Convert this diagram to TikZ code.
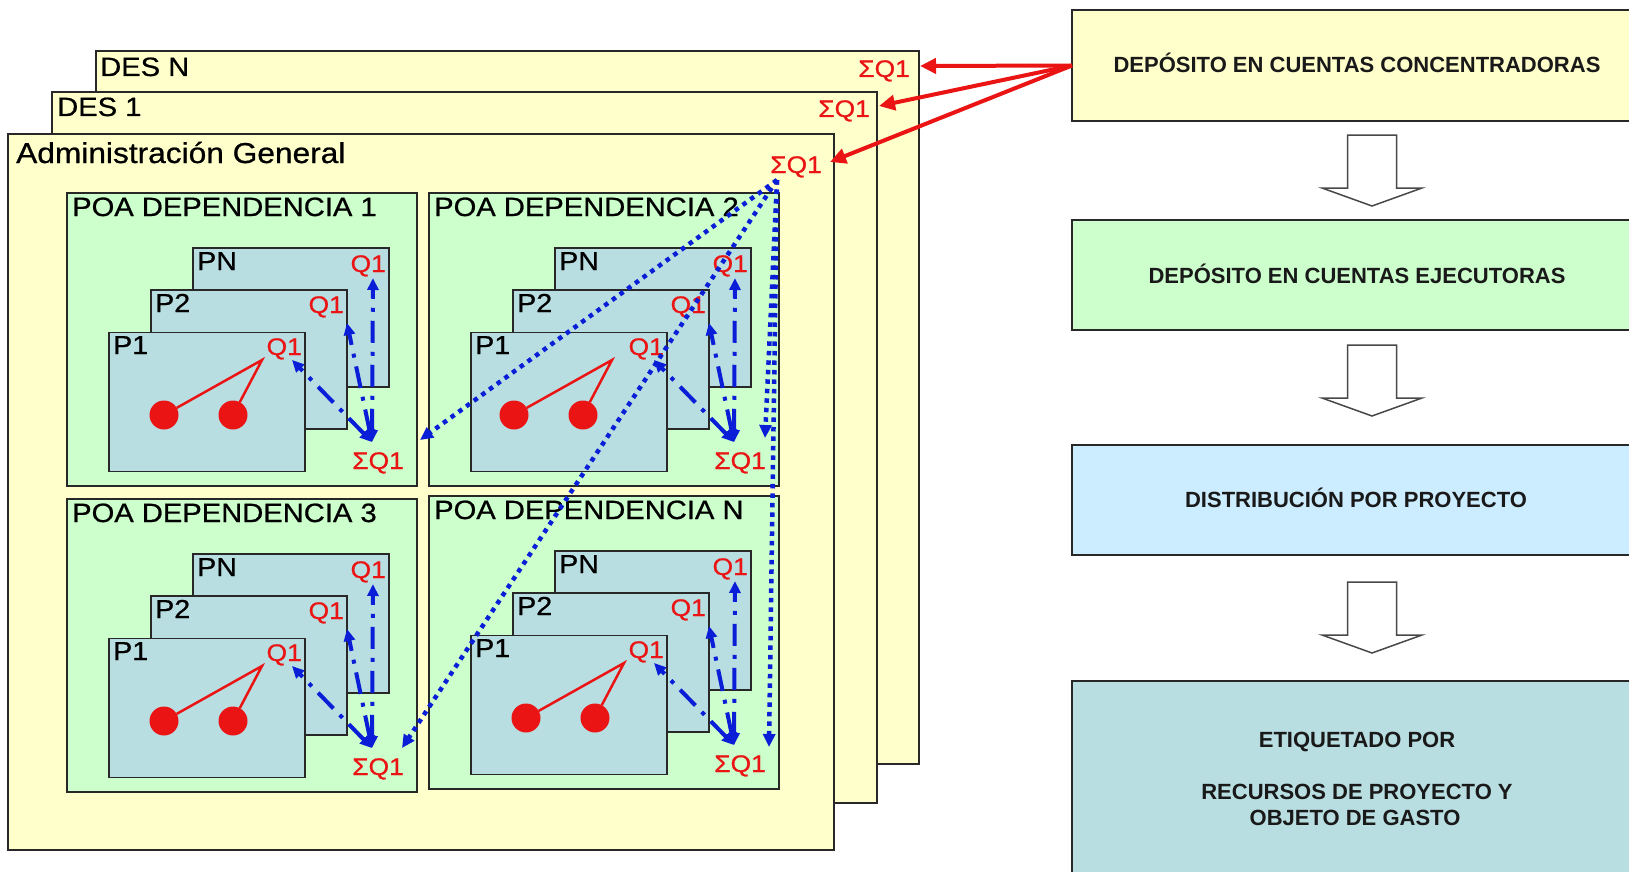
\documentclass[tikz,border=0pt]{standalone}
\usepackage{fontspec}
\setmainfont{Liberation Sans}
\newfontfamily\heavyfont{Liberation Sans}[FakeBold=0.7]
\usetikzlibrary{arrows.meta}
\definecolor{cyellow}{RGB}{255,255,204}
\definecolor{cgreen}{RGB}{204,255,204}
\definecolor{cpbox}{RGB}{185,222,226}
\definecolor{clblue}{RGB}{204,236,255}
\definecolor{cred}{RGB}{235,20,20}
\definecolor{cblue}{RGB}{10,30,215}
\definecolor{cedge}{RGB}{40,40,40}
\newcommand\wtxt[1]{\scalebox{1.1}[1]{#1}}
\tikzset{
  panel/.style={draw=cedge,line width=1.5pt,inner sep=0pt,outer sep=0pt,rectangle},
  ttl/.style={anchor=base west,inner sep=0pt,font=\heavyfont\fontsize{26.5}{30}\selectfont},
  plab/.style={anchor=base west,inner sep=0pt,font=\heavyfont\fontsize{26}{30}\selectfont},
  qlab/.style={anchor=base east,inner sep=0pt,text=cred,font=\heavyfont\fontsize{24}{28}\selectfont},
  ball/.style={circle,fill=cred,minimum size=29pt,inner sep=0pt,outer sep=0pt},
  stem/.style={cred,line width=2.5pt},
  dashdot/.style={cblue,line width=4pt,dash pattern=on 22pt off 9pt on 4pt off 9pt,<->,>={Triangle[length=12pt,width=11pt]}},
  dotarrow/.style={cblue,line width=4.5pt,dash pattern=on 4.5pt off 5pt,->,>={Triangle[length=13pt,width=12pt]}},
  redarrow/.style={cred,line width=4pt,->,>={Triangle[length=16pt,width=15pt]}},
  stepbox/.style={draw=cedge,line width=1.5pt,inner sep=0pt,outer sep=0pt,anchor=north west,minimum width=580pt},
  steptext/.style={anchor=base,inner sep=0pt,font=\bfseries\fontsize{22}{26}\selectfont,text=black!90},
  bigarrow/.style={draw=cedge!85,line width=1.5pt,fill=white,line join=miter}
}
% #1 name, #2 x, #3 y, #4 title, #5 x of left ball
\newcommand\depblock[5]{%
\begin{scope}[shift={(#2,#3)}]
  \node[panel,fill=cgreen,minimum width=350pt,minimum height=293pt] (#1) at (175,146.5) {};
  \node[ttl] (#1-title) at (5,23) {\wtxt{#4}};
  \node[panel,fill=cpbox,minimum width=196pt,minimum height=139pt] (#1-pn) at (224,124.5) {};
  \node[panel,fill=cpbox,minimum width=196pt,minimum height=139pt] (#1-p2) at (182,166.5) {};
  \node[panel,fill=cpbox,minimum width=196pt,minimum height=139pt] (#1-p1) at (140,209) {};
  \node[plab] (#1-lpn) at (130,77) {\wtxt{PN}};
  \node[plab] (#1-lp2) at (88,119) {\wtxt{P2}};
  \node[plab] (#1-lp1) at (46,161) {\wtxt{P1}};
  \node[qlab] (#1-qn) at (319,79) {\wtxt{Q1}};
  \node[qlab] (#1-q2) at (277,120) {\wtxt{Q1}};
  \node[qlab] (#1-q1) at (235,162) {\wtxt{Q1}};
  \node[qlab] (#1-s) at (337,276) {\wtxt{ΣQ1}};
  \coordinate (#1-ap) at (#5+98,167);
  \node[ball] (#1-c1) at (#5,222) {};
  \node[ball] (#1-c2) at (#5+69,222) {};
  \draw[stem] (#1-c1) -- (#1-ap) -- (#1-c2);
  \coordinate (#1-sb) at (305,249);
  \coordinate (#1-tn) at (306,85);
  \coordinate (#1-t2) at (280,130);
  \coordinate (#1-t1) at (225,167);
  \draw[dashdot] (#1-sb) -- (#1-tn);
  \draw[dashdot] (#1-sb) -- (#1-t2);
  \draw[dashdot] (#1-sb) -- (#1-t1);
\end{scope}}
\newcommand\blockarrow[1]{%
  \draw[bigarrow] (1347.5,#1) -- (1396.5,#1) -- (1396.5,#1+53) -- (1422,#1+53)
     -- (1372,#1+71) -- (1322,#1+53) -- (1347.5,#1+53) -- cycle;}
\begin{document}
\begin{tikzpicture}[x=1pt,y=-1pt]
\useasboundingbox (0,0) rectangle (1629,872);
\fill[white] (0,0) rectangle (1629,872);
\begin{scope}
\clip (0,0) rectangle (1629,872);
% --- DES N
\node[panel,fill=cyellow,anchor=north west,minimum width=823pt,minimum height=713pt] (desn) at (96,51) {};
\node[ttl] (desn-t) at (100,76) {\wtxt{DES N}};
\node[qlab] (desn-s) at (910,77) {\wtxt{ΣQ1}};
% --- DES 1
\node[panel,fill=cyellow,anchor=north west,minimum width=825pt,minimum height=711pt] (des1) at (52,92) {};
\node[ttl] (des1-t) at (57,116) {\wtxt{DES 1}};
\node[qlab] (des1-s) at (870,117) {\wtxt{ΣQ1}};
% --- Administracion General
\node[panel,fill=cyellow,anchor=north west,minimum width=826pt,minimum height=716pt] (adm) at (8,134) {};
\node[ttl,font=\heavyfont\fontsize{28.8}{32}\selectfont] (adm-t) at (16,163) {\wtxt{Administración General}};
\node[qlab] (adm-s) at (822,173) {\wtxt{ΣQ1}};
% --- dependencias
\depblock{d1}{67}{193}{POA DEPENDENCIA 1}{97}
\depblock{d2}{429}{193}{POA DEPENDENCIA 2}{85}
\depblock{d3}{67}{499}{POA DEPENDENCIA 3}{97}
\depblock{dn}{429}{496}{POA DEPENDENCIA N}{97}
% --- dotted distribution arrows
\coordinate (ds) at (777,180);
\coordinate (d1in) at (420,440);
\coordinate (d2in) at (765,438);
\coordinate (d3in) at (402,748);
\coordinate (dnin) at (769,747);
\draw[dotarrow] (ds) -- (d1in);
\draw[dotarrow] (ds) -- (d3in);
\draw[dotarrow] (ds) -- (d2in);
\draw[dotarrow] (ds) -- (dnin);
% --- right column
\node[stepbox,fill=cyellow,minimum height=111pt] (b1) at (1072,10) {};
\node[stepbox,fill=cgreen,minimum height=110pt] (b2) at (1072,220) {};
\node[stepbox,fill=clblue,minimum height=110pt] (b3) at (1072,445) {};
\node[stepbox,fill=cpbox,minimum height=220pt] (b4) at (1072,681) {};
\node[steptext] (b1t) at (1357,73) {DEPÓSITO EN CUENTAS CONCENTRADORAS};
\node[steptext] (b2t) at (1357,283) {DEPÓSITO EN CUENTAS EJECUTORAS};
\node[steptext] (b3t) at (1356,507) {DISTRIBUCIÓN POR PROYECTO};
\node[steptext] (b4a) at (1357,747) {ETIQUETADO POR};
\node[steptext] (b4b) at (1357,799) {RECURSOS DE PROYECTO Y};
\node[steptext] (b4c) at (1355,825) {OBJETO DE GASTO};
\blockarrow{135}
\blockarrow{345}
\blockarrow{582}
% --- red arrows
\coordinate (tN) at (920,66);
\coordinate (t1) at (879,106);
\coordinate (tA) at (830,162);
\draw[redarrow] (b1.west) -- (tN);
\draw[redarrow] (b1.west) -- (t1);
\draw[redarrow] (b1.west) -- (tA);
\end{scope}
\end{tikzpicture}
\end{document}
